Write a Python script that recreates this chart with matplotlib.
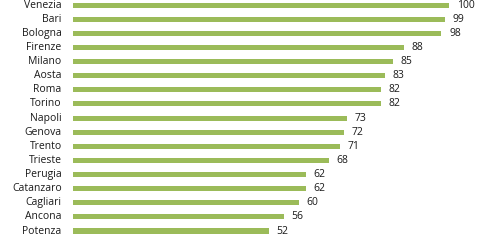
import matplotlib
matplotlib.use("Agg")
from matplotlib import pyplot as plt

cities = ['Venezia', 'Bari', 'Bologna', 'Firenze', 'Milano', 'Aosta', 'Roma', 'Torino',
          'Napoli', 'Genova', 'Trento', 'Trieste', 'Perugia', 'Catanzaro', 'Cagliari',
          'Ancona', 'Potenza']
values = [100, 99, 98, 88, 85, 83, 82, 82, 73, 72, 71, 68, 62, 62, 60, 56, 52]

plt.rcParams['font.family'] = ['Open Sans', 'DejaVu Sans']

fig = plt.figure(figsize=(4.8, 2.4), dpi=100)
# axes placed by pixel: x=0 at 73px, x=100 at 449px
ax = fig.add_axes([73/480, (240-238.1)/240, (449-73)/480, 240.1/240])
pos = list(range(len(cities)))
ax.barh(pos, values, height=0.36, color='#9bbb59')
ax.set_xlim(0, 100)
ax.set_ylim(len(cities) - 0.5, -0.5)

for p, v in zip(pos, values):
    ax.text(v + 2.0, p, str(v), va='center', ha='left', fontsize=7.5, color='#1a1a1a', clip_on=False)
for p, c in zip(pos, cities):
    ax.text(-3.0, p, c, va='center', ha='right', fontsize=7.5, color='#1a1a1a', clip_on=False)

ax.set_xticks([])
ax.set_yticks([])
for s in ax.spines.values():
    s.set_visible(False)

fig.savefig('out.png', dpi=100)
